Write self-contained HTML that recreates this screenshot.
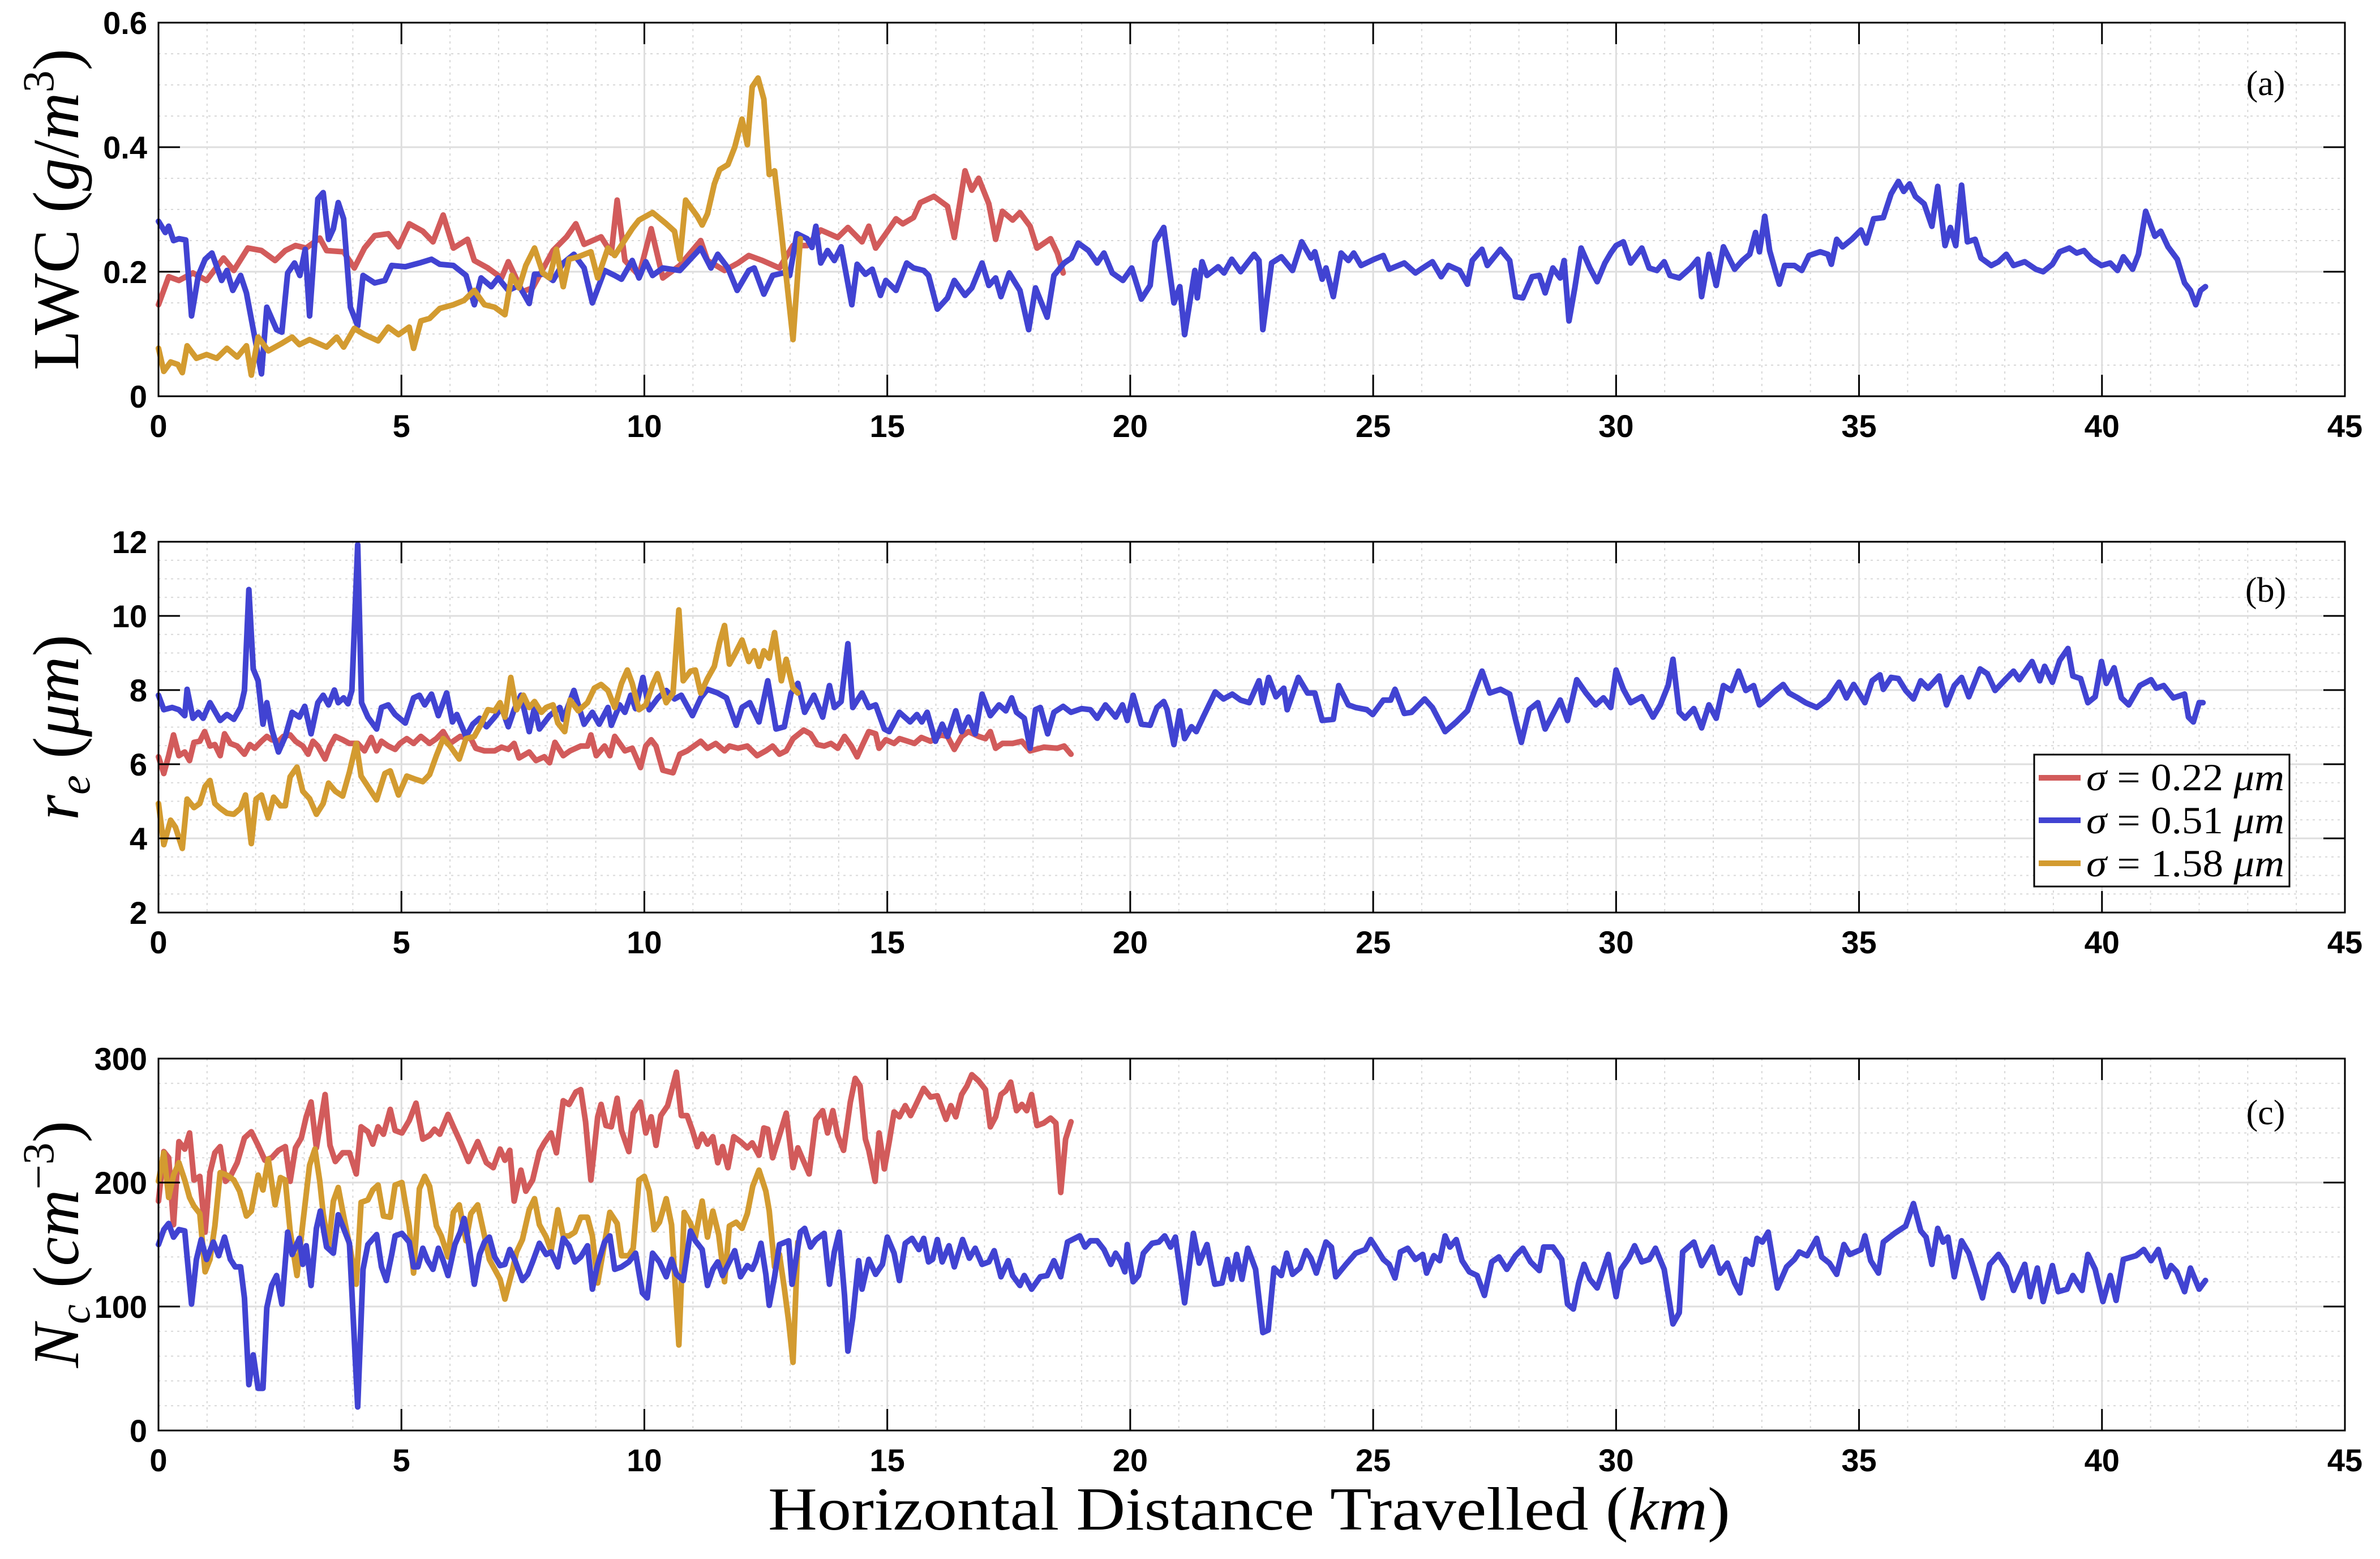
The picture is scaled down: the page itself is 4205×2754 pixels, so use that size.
<!DOCTYPE html>
<html><head><meta charset="utf-8"><style>
html,body{margin:0;padding:0;background:#fff}
svg{display:block}
.tick{font-family:"Liberation Sans",Arial,sans-serif;font-weight:bold;font-size:56px;fill:#000}
.ser{font-family:"Liberation Serif","DejaVu Serif",serif;fill:#000}
</style></head><body>
<svg id="chart" width="4205" height="2754" viewBox="0 0 4205 2754" xmlns="http://www.w3.org/2000/svg">
<rect x="0" y="0" width="4205" height="2754" fill="#fff"/>
<g id="layer"></g>
<text class="ser" transform="translate(138,370) rotate(-90)" text-anchor="middle" font-size="116">LWC (<tspan font-style="italic">g</tspan>/<tspan font-style="italic">m</tspan><tspan dy="-44" font-size="78">3</tspan><tspan dy="44">)</tspan></text>
<text class="ser" transform="translate(138,1285) rotate(-90)" text-anchor="middle" font-size="116"><tspan font-style="italic">r</tspan><tspan font-style="italic" font-size="78" dy="20">e</tspan><tspan dy="-20"> (</tspan><tspan font-style="italic">μm</tspan>)</text>
<text class="ser" transform="translate(138,2198) rotate(-90)" text-anchor="middle" font-size="116"><tspan font-style="italic">N</tspan><tspan font-style="italic" font-size="78" dy="20">c</tspan><tspan dy="-20"> (</tspan><tspan font-style="italic">cm</tspan><tspan dy="-44" font-size="78">−3</tspan><tspan dy="44">)</tspan></text>
<text class="ser" x="2207" y="2702" text-anchor="middle" font-size="108" textLength="1700" lengthAdjust="spacingAndGlyphs">Horizontal Distance Travelled (<tspan font-style="italic">km</tspan>)</text>
<text class="ser" x="4003" y="168" text-anchor="middle" font-size="62">(a)</text>
<text class="ser" x="4003" y="1063" text-anchor="middle" font-size="62">(b)</text>
<text class="ser" x="4003" y="1986" text-anchor="middle" font-size="62">(c)</text>
<g>
<rect x="3594" y="1333" width="451" height="233" fill="#fff" stroke="#000" stroke-width="3"/>
<line x1="3602" y1="1374" x2="3676" y2="1374" stroke="#d25b5b" stroke-width="10"/>
<text class="ser" x="3686" y="1396" font-size="68" textLength="350" lengthAdjust="spacingAndGlyphs"><tspan font-style="italic">σ</tspan> = 0.22 <tspan font-style="italic">μm</tspan></text>
<line x1="3602" y1="1449" x2="3676" y2="1449" stroke="#4143d2" stroke-width="10"/>
<text class="ser" x="3686" y="1472" font-size="68" textLength="350" lengthAdjust="spacingAndGlyphs"><tspan font-style="italic">σ</tspan> = 0.51 <tspan font-style="italic">μm</tspan></text>
<line x1="3602" y1="1525" x2="3676" y2="1525" stroke="#d39b30" stroke-width="10"/>
<text class="ser" x="3686" y="1548" font-size="68" textLength="350" lengthAdjust="spacingAndGlyphs"><tspan font-style="italic">σ</tspan> = 1.58 <tspan font-style="italic">μm</tspan></text>
</g>
</svg>
<script>
// ---- data: [distance km, value] ----
const xTicks = [0,5,10,15,20,25,30,35,40,45];
const lwcTicks = [0,0.2,0.4,0.6];
const lwcTickLabels = ["0","0.2","0.4","0.6"];
const reTicks = [2,4,6,8,10,12];
const ncTicks = [0,100,200,300];

const lwcRed = [[0,.147],[.21,.192],[.42,.186],[.71,.198],[.99,.186],[1.34,.222],[1.55,.202],[1.84,.238],[2.12,.234],[2.40,.218],[2.61,.234],[2.82,.242],[3.04,.238],[3.32,.254],[3.46,.234],[3.81,.232],[4.03,.206],[4.24,.238],[4.45,.258],[4.73,.261],[4.94,.240],[5.16,.277],[5.44,.265],[5.65,.248],[5.86,.291],[6.07,.238],[6.36,.252],[6.50,.218],[6.78,.206],[7.06,.190],[7.20,.216],[7.49,.168],[7.70,.174],[8.12,.234],[8.40,.256],[8.59,.277],[8.76,.244],[9.11,.256],[9.32,.230],[9.44,.315],[9.60,.218],[9.89,.194],[10.14,.269],[10.38,.190],[10.73,.210],[11.16,.250],[11.30,.218],[11.65,.202],[11.93,.214],[12.15,.226],[12.43,.218],[12.78,.206],[13.06,.242],[13.35,.242],[13.63,.267],[13.98,.255],[14.19,.271],[14.48,.248],[14.62,.273],[14.76,.238],[14.97,.261],[15.18,.285],[15.32,.277],[15.54,.287],[15.68,.311],[15.96,.321],[16.24,.305],[16.38,.255],[16.60,.362],[16.74,.331],[16.88,.350],[17.09,.309],[17.23,.252],[17.37,.297],[17.58,.283],[17.73,.295],[17.94,.273],[18.08,.238],[18.36,.253],[18.50,.230],[18.62,.198]];
const lwcGold = [[0,.077],[.11,.040],[.25,.055],[.40,.051],[.49,.038],[.59,.081],[.78,.061],[.99,.067],[1.20,.061],[1.41,.077],[1.62,.063],[1.81,.081],[1.91,.034],[2.05,.095],[2.26,.073],[2.54,.085],[2.75,.095],[2.90,.083],[3.11,.091],[3.46,.079],[3.67,.095],[3.81,.079],[4.03,.109],[4.24,.099],[4.52,.089],[4.73,.111],[4.94,.099],[5.16,.111],[5.25,.077],[5.40,.121],[5.58,.125],[5.79,.141],[6.07,.147],[6.29,.154],[6.50,.170],[6.71,.147],[6.92,.143],[7.13,.131],[7.27,.194],[7.42,.174],[7.56,.210],[7.74,.238],[7.91,.198],[8.05,.190],[8.19,.236],[8.33,.176],[8.45,.220],[8.64,.224],[8.90,.232],[9.04,.190],[9.25,.238],[9.39,.226],[9.75,.269],[9.89,.283],[10.17,.295],[10.45,.277],[10.62,.265],[10.73,.220],[10.85,.315],[11.09,.289],[11.19,.275],[11.30,.293],[11.44,.341],[11.55,.364],[11.72,.372],[11.86,.400],[12.01,.445],[12.12,.404],[12.22,.497],[12.34,.511],[12.46,.477],[12.57,.356],[12.68,.362],[12.82,.265],[13.06,.091],[13.21,.253]];
const lwcBlue = [[0,.281],[.14,.263],[.21,.273],[.31,.250],[.42,.253],[.56,.251],[.68,.129],[.82,.194],[.96,.220],[1.10,.230],[1.30,.186],[1.41,.202],[1.53,.170],[1.69,.194],[1.81,.166],[1.98,.095],[2.12,.036],[2.23,.143],[2.43,.107],[2.54,.103],[2.66,.198],[2.80,.214],[2.91,.194],[3.02,.236],[3.11,.129],[3.28,.317],[3.39,.327],[3.50,.252],[3.60,.269],[3.70,.311],[3.81,.285],[3.95,.143],[4.10,.113],[4.21,.194],[4.45,.182],[4.66,.186],[4.80,.210],[5.08,.208],[5.37,.214],[5.62,.220],[5.79,.212],[6.07,.210],[6.33,.194],[6.50,.147],[6.64,.190],[6.85,.176],[6.99,.190],[7.20,.170],[7.42,.178],[7.63,.149],[7.74,.196],[7.94,.196],[8.12,.186],[8.33,.214],[8.55,.228],[8.76,.206],[8.93,.150],[9.18,.202],[9.39,.194],[9.53,.188],[9.75,.218],[9.89,.190],[10.03,.216],[10.17,.194],[10.38,.206],[10.73,.202],[11.16,.238],[11.37,.206],[11.51,.228],[11.72,.206],[11.91,.170],[12.15,.202],[12.26,.206],[12.46,.164],[12.64,.194],[12.85,.198],[12.99,.194],[13.14,.261],[13.35,.253],[13.45,.239],[13.53,.273],[13.63,.214],[13.77,.234],[13.91,.218],[14.05,.240],[14.27,.147],[14.38,.212],[14.55,.196],[14.69,.204],[14.86,.162],[14.97,.186],[15.18,.170],[15.40,.214],[15.54,.206],[15.75,.202],[15.85,.194],[16.03,.140],[16.24,.158],[16.38,.186],[16.60,.162],[16.74,.174],[16.95,.214],[17.09,.178],[17.23,.190],[17.34,.160],[17.51,.198],[17.73,.170],[17.91,.107],[18.05,.174],[18.29,.127],[18.43,.194],[18.64,.214],[18.79,.222],[18.93,.246],[19.14,.234],[19.32,.214],[19.46,.230],[19.63,.198],[19.85,.186],[20.03,.206],[20.23,.156],[20.41,.178],[20.51,.248],[20.69,.271],[20.90,.150],[21.02,.176],[21.12,.099],[21.33,.202],[21.38,.158],[21.48,.216],[21.58,.194],[21.81,.208],[21.93,.198],[22.09,.220],[22.27,.200],[22.55,.228],[22.65,.218],[22.73,.107],[22.91,.214],[23.11,.224],[23.34,.202],[23.53,.248],[23.72,.222],[23.80,.232],[23.95,.188],[24.03,.206],[24.18,.160],[24.34,.230],[24.49,.218],[24.60,.230],[24.75,.210],[25.02,.220],[25.21,.226],[25.33,.204],[25.64,.214],[25.87,.198],[26.02,.206],[26.22,.216],[26.40,.192],[26.55,.210],[26.78,.202],[26.94,.180],[27.04,.218],[27.24,.236],[27.35,.210],[27.62,.236],[27.81,.218],[27.93,.160],[28.08,.158],[28.27,.192],[28.42,.194],[28.54,.166],[28.70,.206],[28.85,.190],[28.93,.218],[29.03,.121],[29.15,.174],[29.28,.238],[29.46,.206],[29.61,.184],[29.77,.214],[29.89,.230],[30.00,.242],[30.15,.248],[30.30,.214],[30.53,.238],[30.68,.206],[30.84,.202],[30.99,.216],[31.11,.194],[31.30,.190],[31.53,.206],[31.68,.220],[31.76,.160],[31.91,.228],[32.06,.178],[32.21,.240],[32.44,.204],[32.60,.218],[32.75,.228],[32.87,.263],[32.95,.232],[33.06,.289],[33.16,.234],[33.29,.198],[33.36,.180],[33.47,.210],[33.67,.210],[33.82,.202],[33.97,.226],[34.20,.232],[34.36,.228],[34.43,.212],[34.54,.252],[34.66,.240],[34.85,.252],[35.04,.267],[35.15,.246],[35.30,.285],[35.50,.287],[35.66,.325],[35.81,.345],[35.92,.329],[36.04,.341],[36.16,.321],[36.34,.309],[36.50,.273],[36.62,.337],[36.77,.242],[36.88,.271],[36.99,.242],[37.11,.339],[37.23,.248],[37.39,.252],[37.51,.222],[37.72,.210],[37.87,.216],[38.03,.228],[38.18,.210],[38.41,.216],[38.64,.204],[38.79,.200],[38.98,.212],[39.13,.232],[39.33,.238],[39.48,.230],[39.63,.234],[39.79,.220],[39.99,.210],[40.17,.214],[40.32,.202],[40.44,.224],[40.63,.204],[40.75,.228],[40.90,.297],[41.09,.257],[41.21,.265],[41.36,.240],[41.55,.220],[41.70,.182],[41.82,.170],[41.93,.147],[42.03,.170],[42.13,.176]];

const reRed = [[0,6.20],[.11,5.75],[.21,6.23],[.31,6.79],[.42,6.23],[.54,6.33],[.64,6.10],[.73,6.59],[.85,6.62],[.95,6.88],[1.06,6.49],[1.16,6.53],[1.27,6.23],[1.36,6.82],[1.48,6.56],[1.62,6.49],[1.77,6.27],[1.88,6.53],[1.98,6.43],[2.12,6.62],[2.23,6.75],[2.33,6.66],[2.47,6.62],[2.57,6.75],[2.71,6.79],[2.82,6.62],[2.97,6.49],[3.08,6.27],[3.18,6.62],[3.28,6.49],[3.43,6.14],[3.53,6.49],[3.64,6.75],[3.79,6.66],[3.93,6.56],[4.10,6.56],[4.24,6.36],[4.38,6.72],[4.49,6.36],[4.59,6.62],[4.73,6.49],[4.87,6.40],[4.97,6.56],[5.11,6.69],[5.25,6.56],[5.40,6.75],[5.58,6.56],[5.72,6.69],[5.86,6.88],[6.00,6.56],[6.21,6.75],[6.43,6.69],[6.53,6.43],[6.71,6.36],[6.92,6.36],[7.06,6.46],[7.20,6.40],[7.32,6.56],[7.42,6.17],[7.63,6.33],[7.77,6.10],[7.94,6.20],[8.05,6.04],[8.16,6.59],[8.33,6.23],[8.47,6.36],[8.69,6.49],[8.83,6.49],[8.90,6.79],[9.01,6.23],[9.18,6.49],[9.29,6.23],[9.39,6.75],[9.60,6.36],[9.75,6.43],[9.92,5.91],[10.03,6.49],[10.14,6.66],[10.24,6.49],[10.38,5.84],[10.59,5.77],[10.73,6.27],[10.88,6.36],[11.16,6.62],[11.30,6.43],[11.47,6.56],[11.65,6.36],[11.75,6.49],[11.93,6.43],[12.12,6.49],[12.32,6.23],[12.50,6.36],[12.64,6.49],[12.78,6.27],[12.92,6.36],[13.06,6.69],[13.28,6.92],[13.42,6.82],[13.56,6.53],[13.70,6.49],[13.84,6.56],[13.98,6.43],[14.12,6.75],[14.26,6.49],[14.38,6.20],[14.48,6.49],[14.62,6.88],[14.76,6.82],[14.83,6.43],[14.97,6.66],[15.14,6.56],[15.25,6.69],[15.42,6.62],[15.56,6.56],[15.70,6.72],[15.89,6.62],[16.10,6.79],[16.24,6.75],[16.38,6.40],[16.53,6.75],[16.67,6.88],[16.88,6.75],[17.02,6.69],[17.12,6.88],[17.23,6.43],[17.37,6.56],[17.58,6.56],[17.77,6.62],[17.94,6.36],[18.22,6.46],[18.50,6.43],[18.64,6.49],[18.78,6.27]];
const reGold = [[0,4.94],[.11,3.83],[.25,4.49],[.35,4.30],[.49,3.73],[.59,5.06],[.73,4.83],[.85,4.94],[.96,5.40],[1.06,5.56],[1.16,4.94],[1.27,4.81],[1.41,4.68],[1.55,4.65],[1.69,4.81],[1.79,5.17],[1.91,3.86],[2.01,5.06],[2.12,5.17],[2.26,4.55],[2.37,5.11],[2.51,4.88],[2.61,4.88],[2.71,5.66],[2.85,5.92],[2.97,5.27],[3.11,5.07],[3.25,4.65],[3.39,4.94],[3.50,5.49],[3.64,5.27],[3.79,5.14],[3.93,5.79],[4.07,6.56],[4.17,5.68],[4.31,5.40],[4.49,5.04],[4.66,5.75],[4.77,5.82],[4.94,5.17],[5.11,5.68],[5.30,5.59],[5.44,5.53],[5.58,5.72],[5.72,6.23],[5.86,6.69],[6.00,6.49],[6.19,6.14],[6.33,6.69],[6.50,6.75],[6.64,7.08],[6.78,7.47],[6.92,7.44],[7.03,7.66],[7.13,7.27],[7.25,8.34],[7.37,7.47],[7.51,7.86],[7.63,7.53],[7.74,7.69],[7.88,7.40],[7.98,7.53],[8.12,7.60],[8.22,7.11],[8.36,6.88],[8.47,7.73],[8.64,7.44],[8.83,7.66],[8.97,8.05],[9.11,8.15],[9.25,7.99],[9.39,7.53],[9.53,8.18],[9.65,8.54],[9.75,8.18],[9.89,7.47],[10.03,7.60],[10.17,8.15],[10.27,8.44],[10.45,7.66],[10.59,7.92],[10.71,10.16],[10.80,8.25],[10.95,8.51],[11.05,8.54],[11.16,7.92],[11.30,8.31],[11.44,8.64],[11.55,9.29],[11.65,9.74],[11.75,8.70],[11.86,8.96],[12.01,9.35],[12.15,8.77],[12.26,9.06],[12.36,8.64],[12.46,9.06],[12.57,8.86],[12.68,9.55],[12.82,8.25],[12.92,8.83],[13.06,8.05],[13.16,7.92]];
const reBlue = [[0,7.86],[.11,7.47],[.28,7.53],[.42,7.47],[.54,7.31],[.59,8.02],[.71,7.24],[.82,7.40],[.92,7.24],[1.06,7.66],[1.27,7.18],[1.41,7.34],[1.55,7.21],[1.69,7.53],[1.77,7.99],[1.86,10.71],[1.95,8.57],[2.05,8.25],[2.15,7.08],[2.23,7.66],[2.33,6.95],[2.47,6.33],[2.61,6.75],[2.75,7.40],[2.90,7.27],[3.01,7.56],[3.14,6.82],[3.28,7.66],[3.39,7.86],[3.50,7.60],[3.62,8.0],[3.70,7.66],[3.81,7.79],[3.90,7.63],[3.98,7.99],[4.10,11.92],[4.18,7.66],[4.31,7.27],[4.49,6.95],[4.59,7.53],[4.73,7.60],[4.87,7.34],[5.08,7.11],[5.25,7.79],[5.37,7.86],[5.48,7.60],[5.62,7.89],[5.76,7.31],[5.93,7.92],[6.05,7.14],[6.14,7.34],[6.33,6.75],[6.47,7.08],[6.61,7.24],[6.75,7.01],[6.92,7.27],[7.06,7.53],[7.20,7.01],[7.32,7.47],[7.46,7.86],[7.63,6.88],[7.74,7.53],[7.84,6.95],[8.05,7.31],[8.26,7.53],[8.33,7.21],[8.55,7.99],[8.76,7.08],[8.93,7.40],[9.07,7.08],[9.25,7.53],[9.32,7.05],[9.49,7.60],[9.60,7.40],[9.72,7.86],[9.82,7.50],[9.97,8.34],[10.10,7.47],[10.28,7.79],[10.45,7.99],[10.62,7.76],[10.76,7.86],[10.99,7.31],[11.16,7.79],[11.30,8.02],[11.51,7.92],[11.69,7.79],[11.89,7.05],[12.01,7.53],[12.17,7.66],[12.36,7.14],[12.54,8.25],[12.71,6.95],[12.88,7.01],[13.02,7.92],[13.16,8.18],[13.30,7.40],[13.49,7.86],[13.67,7.27],[13.81,8.12],[13.91,7.53],[14.05,7.69],[14.19,9.25],[14.29,7.53],[14.48,7.92],[14.62,7.53],[14.76,7.60],[14.94,6.95],[15.04,6.88],[15.25,7.40],[15.47,7.14],[15.61,7.34],[15.71,7.14],[15.82,7.40],[15.99,6.62],[16.13,7.08],[16.24,6.75],[16.41,7.44],[16.53,6.88],[16.67,7.27],[16.81,6.82],[16.95,7.89],[17.12,7.31],[17.30,7.60],[17.44,7.44],[17.56,7.79],[17.66,7.40],[17.82,7.24],[17.94,6.43],[18.05,7.47],[18.15,7.53],[18.30,6.82],[18.43,7.40],[18.62,7.56],[18.78,7.40],[19.00,7.50],[19.18,7.47],[19.32,7.24],[19.49,7.60],[19.70,7.27],[19.84,7.60],[19.94,7.18],[20.06,7.86],[20.23,7.08],[20.41,7.05],[20.55,7.53],[20.69,7.69],[20.76,7.47],[20.90,6.53],[21.02,7.44],[21.12,6.69],[21.26,7.01],[21.36,6.88],[21.50,7.27],[21.75,7.95],[21.92,7.76],[22.10,7.89],[22.27,7.73],[22.45,7.66],[22.65,8.25],[22.73,7.66],[22.85,8.34],[23.00,7.82],[23.16,8.05],[23.23,7.47],[23.46,8.34],[23.65,7.92],[23.80,7.92],[23.95,7.18],[24.18,7.21],[24.29,8.12],[24.49,7.60],[24.64,7.53],[24.87,7.47],[24.99,7.34],[25.21,7.73],[25.36,7.73],[25.45,8.02],[25.64,7.37],[25.79,7.40],[26.06,7.76],[26.22,7.53],[26.48,6.88],[26.71,7.14],[26.94,7.44],[27.09,7.99],[27.24,8.51],[27.40,7.92],[27.62,8.02],[27.81,7.89],[27.93,7.21],[28.05,6.59],[28.21,7.47],[28.39,7.66],[28.54,6.95],[28.85,7.73],[29.00,7.18],[29.19,8.28],[29.38,7.92],[29.58,7.60],[29.74,7.79],[29.89,7.53],[30.00,8.54],[30.15,8.02],[30.30,7.66],[30.53,7.82],[30.76,7.27],[30.91,7.60],[31.07,8.12],[31.17,8.83],[31.30,7.40],[31.42,7.24],[31.60,7.50],[31.76,6.98],[31.91,7.60],[32.06,7.24],[32.21,8.12],[32.37,7.99],[32.52,8.51],[32.67,7.99],[32.83,8.12],[32.95,7.60],[33.10,7.76],[33.25,7.95],[33.44,8.15],[33.56,7.92],[33.74,7.79],[33.90,7.66],[34.13,7.53],[34.36,7.76],[34.59,8.21],[34.74,7.79],[34.89,8.15],[35.12,7.66],[35.27,8.25],[35.43,8.41],[35.50,8.02],[35.66,8.34],[35.81,8.31],[35.96,7.99],[36.12,7.76],[36.27,8.25],[36.42,8.05],[36.65,8.38],[36.80,7.60],[36.96,8.12],[37.11,8.34],[37.26,7.82],[37.49,8.57],[37.64,8.44],[37.80,7.99],[38.03,8.31],[38.18,8.51],[38.30,8.28],[38.56,8.77],[38.72,8.25],[38.82,8.64],[38.98,8.21],[39.13,8.80],[39.30,9.12],[39.40,8.38],[39.56,8.31],[39.71,7.66],[39.86,7.82],[39.99,8.77],[40.09,8.18],[40.25,8.60],[40.40,7.79],[40.55,7.60],[40.78,8.12],[41.01,8.28],[41.12,8.05],[41.27,8.12],[41.47,7.79],[41.70,7.89],[41.78,7.27],[41.88,7.14],[42.00,7.66],[42.08,7.66]];

const ncRed = [[0,185],[.11,225],[.21,220],[.31,166],[.42,233],[.54,227],[.64,240],[.73,202],[.85,205],[.96,160],[1.06,208],[1.16,224],[1.27,229],[1.38,201],[1.48,205],[1.62,216],[1.77,236],[1.91,241],[2.05,230],[2.19,218],[2.33,220],[2.47,226],[2.61,229],[2.71,201],[2.82,228],[2.94,236],[3.04,253],[3.14,265],[3.25,228],[3.43,271],[3.53,230],[3.64,217],[3.79,224],[3.93,224],[4.07,207],[4.17,245],[4.31,241],[4.41,231],[4.52,245],[4.63,239],[4.77,259],[4.87,242],[5.01,240],[5.16,250],[5.30,264],[5.44,235],[5.58,238],[5.68,243],[5.79,239],[5.96,255],[6.07,245],[6.21,233],[6.38,217],[6.57,233],[6.75,216],[6.89,212],[7.03,227],[7.13,218],[7.23,226],[7.32,185],[7.46,210],[7.56,193],[7.70,202],[7.84,225],[7.94,232],[8.08,240],[8.19,224],[8.33,266],[8.45,263],[8.59,273],[8.69,275],[8.79,249],[8.90,202],[9.04,253],[9.11,263],[9.21,246],[9.32,245],[9.44,268],[9.53,242],[9.68,225],[9.77,256],[9.92,265],[10.03,240],[10.14,253],[10.24,230],[10.34,254],[10.48,262],[10.66,289],[10.76,254],[10.88,254],[10.99,242],[11.09,229],[11.19,239],[11.30,231],[11.41,237],[11.51,216],[11.61,229],[11.72,212],[11.84,237],[11.98,233],[12.12,228],[12.22,232],[12.36,222],[12.46,244],[12.54,243],[12.64,220],[12.78,238],[12.92,256],[13.06,212],[13.16,228],[13.28,217],[13.39,207],[13.53,251],[13.67,258],[13.77,240],[13.88,258],[13.98,238],[14.10,226],[14.24,265],[14.34,284],[14.44,278],[14.55,235],[14.62,226],[14.75,201],[14.83,240],[14.94,211],[15.04,233],[15.14,257],[15.25,253],[15.37,262],[15.48,254],[15.58,262],[15.75,276],[15.89,269],[16.03,270],[16.21,251],[16.31,262],[16.41,253],[16.53,271],[16.64,278],[16.74,287],[16.88,282],[17.02,275],[17.12,245],[17.23,253],[17.34,271],[17.44,274],[17.54,281],[17.66,258],[17.77,263],[17.87,258],[17.97,271],[18.08,246],[18.22,248],[18.36,252],[18.47,248],[18.57,192],[18.67,235],[18.78,249]];
const ncGold = [[0,201],[.11,224],[.21,188],[.31,206],[.42,216],[.54,202],[.64,188],[.73,181],[.85,175],[.96,128],[1.06,138],[1.16,165],[1.27,208],[1.41,206],[1.55,202],[1.67,193],[1.81,173],[1.91,177],[2.05,206],[2.15,194],[2.26,219],[2.40,182],[2.51,204],[2.61,202],[2.71,161],[2.85,125],[2.97,167],[3.11,214],[3.22,227],[3.32,201],[3.39,175],[3.50,149],[3.60,185],[3.70,196],[3.81,173],[3.95,146],[4.07,118],[4.17,184],[4.31,186],[4.41,194],[4.52,198],[4.63,173],[4.77,172],[4.87,198],[5.01,200],[5.16,165],[5.25,127],[5.37,195],[5.48,205],[5.58,197],[5.72,165],[5.82,157],[5.96,140],[6.07,176],[6.19,182],[6.33,153],[6.43,175],[6.57,182],[6.71,157],[6.81,138],[6.92,130],[7.03,122],[7.13,106],[7.27,127],[7.37,144],[7.49,154],[7.63,178],[7.74,187],[7.84,166],[7.98,156],[8.08,145],[8.22,178],[8.33,157],[8.45,157],[8.57,160],[8.69,172],[8.83,172],[8.93,157],[9.04,119],[9.18,151],[9.29,176],[9.44,167],[9.53,141],[9.68,141],[9.77,147],[9.89,202],[10.00,205],[10.10,193],[10.20,162],[10.31,168],[10.45,187],[10.56,166],[10.71,69],[10.82,176],[10.95,167],[11.05,156],[11.19,185],[11.30,156],[11.41,177],[11.53,158],[11.65,120],[11.75,165],[11.89,168],[12.01,163],[12.12,175],[12.23,197],[12.36,210],[12.50,193],[12.57,177],[12.68,132],[12.78,142],[12.88,115],[12.97,88],[13.06,55],[13.16,152]];
const ncBlue = [[0,150],[.11,162],[.21,167],[.31,156],[.42,162],[.54,161],[.59,140],[.68,102],[.78,138],[.88,154],[.99,138],[1.13,152],[1.24,141],[1.36,156],[1.48,138],[1.58,132],[1.69,132],[1.77,107],[1.86,37],[1.95,61],[2.05,34],[2.15,34],[2.23,99],[2.33,117],[2.43,125],[2.54,102],[2.66,160],[2.75,142],[2.90,155],[2.97,134],[3.04,149],[3.14,117],[3.25,163],[3.33,177],[3.46,148],[3.60,143],[3.70,174],[3.81,163],[3.93,151],[4.10,19],[4.21,130],[4.31,150],[4.49,158],[4.59,132],[4.69,121],[4.80,142],[4.87,157],[5.01,159],[5.16,152],[5.25,132],[5.34,132],[5.44,147],[5.54,137],[5.65,130],[5.76,147],[5.86,137],[5.96,125],[6.10,150],[6.21,160],[6.29,171],[6.38,152],[6.50,118],[6.61,142],[6.71,152],[6.81,156],[6.92,140],[7.03,133],[7.13,134],[7.23,146],[7.34,137],[7.49,121],[7.60,126],[7.70,136],[7.84,151],[7.98,142],[8.08,144],[8.22,132],[8.33,155],[8.45,149],[8.57,136],[8.69,140],[8.83,149],[8.93,114],[9.04,134],[9.18,152],[9.29,157],[9.39,130],[9.53,132],[9.68,136],[9.82,143],[9.96,111],[10.06,107],[10.17,143],[10.31,136],[10.45,124],[10.56,138],[10.66,126],[10.80,121],[10.95,161],[11.05,153],[11.19,146],[11.30,117],[11.41,130],[11.51,136],[11.61,125],[11.75,136],[11.86,145],[11.98,124],[12.12,133],[12.22,130],[12.29,136],[12.40,151],[12.50,126],[12.57,101],[12.68,124],[12.78,150],[12.97,153],[13.04,118],[13.21,160],[13.30,163],[13.42,148],[13.53,154],[13.70,159],[13.81,118],[13.91,144],[14.01,160],[14.12,109],[14.19,64],[14.29,91],[14.41,137],[14.48,114],[14.62,138],[14.76,126],[14.90,134],[15.00,156],[15.14,143],[15.25,121],[15.37,151],[15.51,155],[15.65,146],[15.75,155],[15.85,136],[15.93,138],[16.03,154],[16.13,136],[16.27,149],[16.38,132],[16.55,154],[16.69,139],[16.81,147],[16.95,134],[17.09,136],[17.20,145],[17.34,124],[17.49,137],[17.58,125],[17.73,117],[17.82,125],[17.97,114],[18.15,124],[18.29,125],[18.43,137],[18.57,124],[18.71,152],[18.86,155],[18.96,157],[19.07,148],[19.18,153],[19.32,153],[19.46,146],[19.60,134],[19.70,143],[19.80,137],[19.89,128],[19.94,150],[20.06,120],[20.17,125],[20.27,143],[20.45,151],[20.59,152],[20.71,157],[20.83,148],[20.93,156],[21.04,126],[21.12,103],[21.30,159],[21.42,135],[21.58,150],[21.74,118],[21.89,119],[22.00,138],[22.09,122],[22.19,142],[22.30,122],[22.42,147],[22.58,130],[22.73,79],[22.84,81],[22.96,131],[23.11,125],[23.22,143],[23.34,126],[23.49,131],[23.62,145],[23.72,139],[23.83,127],[24.03,152],[24.14,148],[24.23,124],[24.44,134],[24.64,143],[24.84,146],[24.95,154],[25.05,148],[25.21,138],[25.33,134],[25.45,123],[25.56,144],[25.71,147],[25.87,138],[26.02,142],[26.10,127],[26.25,141],[26.37,137],[26.48,157],[26.58,148],[26.71,154],[26.83,137],[26.98,128],[27.14,125],[27.29,109],[27.44,136],[27.59,140],[27.75,130],[27.93,141],[28.08,147],[28.24,136],[28.42,129],[28.51,148],[28.70,148],[28.88,138],[29.00,102],[29.12,98],[29.23,119],[29.34,134],[29.46,122],[29.61,115],[29.84,142],[30.00,108],[30.10,130],[30.26,139],[30.38,149],[30.53,136],[30.68,138],[30.81,147],[30.99,130],[31.17,86],[31.30,95],[31.37,144],[31.60,152],[31.76,133],[31.98,148],[32.14,127],[32.29,135],[32.44,119],[32.55,111],[32.67,138],[32.80,134],[32.90,155],[33.01,152],[33.13,160],[33.32,115],[33.51,132],[33.67,138],[33.77,144],[33.93,141],[34.13,155],[34.23,140],[34.39,135],[34.54,126],[34.69,150],[34.81,142],[35.04,146],[35.12,157],[35.24,137],[35.40,127],[35.50,152],[35.73,159],[35.96,165],[36.12,183],[36.27,161],[36.38,156],[36.50,134],[36.62,163],[36.73,152],[36.83,156],[36.96,124],[37.11,153],[37.26,143],[37.42,123],[37.54,107],[37.69,134],[37.87,142],[38.03,132],[38.18,113],[38.41,134],[38.52,108],[38.67,131],[38.79,104],[38.98,133],[39.10,112],[39.28,114],[39.40,125],[39.59,113],[39.71,142],[39.86,130],[40.02,104],[40.17,125],[40.29,105],[40.44,138],[40.70,141],[40.86,146],[41.01,137],[41.16,146],[41.32,124],[41.42,133],[41.54,128],[41.70,112],[41.82,131],[42.00,114],[42.13,121]];

// ---- layout ----
const X0 = 280, X1 = 4143, XMAX = 45;
const panels = [
  {id:'lwc', top:40, bot:700, ymin:0, ymax:0.6, major:lwcTicks, labels:lwcTickLabels, minorStep:0.05,
   series:[['red',lwcRed],['blue',lwcBlue],['gold',lwcGold]]},
  {id:'re', top:957, bot:1612, ymin:2, ymax:12, major:reTicks, labels:reTicks.map(String), minorStep:0.5,
   series:[['red',reRed],['blue',reBlue],['gold',reGold]]},
  {id:'nc', top:1870, bot:2527, ymin:0, ymax:300, major:ncTicks, labels:ncTicks.map(String), minorStep:20,
   series:[['red',ncRed],['gold',ncGold],['blue',ncBlue]]}
];
const colors = {red:'#d25b5b', blue:'#4143d2', gold:'#d39b30'};
const NS = 'http://www.w3.org/2000/svg';
const layer = document.getElementById('layer');
function xs(v){return X0 + (v/XMAX)*(X1-X0);}
function mk(tag, attrs, parent){
  const e = document.createElementNS(NS, tag);
  for (const k in attrs) e.setAttribute(k, attrs[k]);
  (parent||layer).appendChild(e);
  return e;
}
panels.forEach(p => {
  const ys = v => p.bot - (v-p.ymin)/(p.ymax-p.ymin)*(p.bot-p.top);
  const g = mk('g', {});
  
  
  mk('rect', {x:X0, y:p.top, width:X1-X0, height:p.bot-p.top, fill:'#fff'}, g);
  for (let k=1; k<XMAX; k++) {
    if (k%5===0) continue;
    const l = mk('line', {x1:xs(k), x2:xs(k), y1:p.top, y2:p.bot, stroke:'#d8d8d8', 'stroke-width':2, 'stroke-dasharray':'4,7'}, g);
    
    
  }
  for (let v=p.ymin+p.minorStep; v<p.ymax-1e-9; v+=p.minorStep) {
    const l = mk('line', {x1:X0, x2:X1, y1:ys(v), y2:ys(v), stroke:'#d8d8d8', 'stroke-width':2, 'stroke-dasharray':'4,7'}, g);
    
    
  }
  xTicks.forEach(t => {
    const l = mk('line', {x1:xs(t), x2:xs(t), y1:p.top, y2:p.bot, stroke:'#dedede', 'stroke-width':3}, g);
    
    
  });
  p.major.forEach(t => {
    const l = mk('line', {x1:X0, x2:X1, y1:ys(t), y2:ys(t), stroke:'#dedede', 'stroke-width':3}, g);
    
    
  });
  p.series.forEach(([name, data]) => {
    const d = data.map((pt,i) => (i?'L':'M') + xs(pt[0]).toFixed(1) + ',' + ys(pt[1]).toFixed(1)).join(' ');
    const path = mk('path', {d:d, fill:'none', stroke:colors[name], 'stroke-width':10, 'stroke-linejoin':'round', 'stroke-linecap':'round'}, g);
    
    
  });
  xTicks.forEach(t => {
    mk('line', {x1:xs(t), x2:xs(t), y1:p.bot, y2:p.bot-38, stroke:'#000', 'stroke-width':3}, g);
    mk('line', {x1:xs(t), x2:xs(t), y1:p.top, y2:p.top+38, stroke:'#000', 'stroke-width':3}, g);
    const tl = mk('text', {x:xs(t), y:p.bot+72, 'text-anchor':'middle', class:'tick'}, g);
    tl.textContent = String(t);
    
    
  });
  p.major.forEach((t,i) => {
    mk('line', {x1:X0, x2:X0+38, y1:ys(t), y2:ys(t), stroke:'#000', 'stroke-width':3}, g);
    mk('line', {x1:X1, x2:X1-38, y1:ys(t), y2:ys(t), stroke:'#000', 'stroke-width':3}, g);
    const tl = mk('text', {x:X0-20, y:ys(t)+20, 'text-anchor':'end', class:'tick'}, g);
    tl.textContent = p.labels[i];
    
    
  });
  const box = mk('rect', {x:X0, y:p.top, width:X1-X0, height:p.bot-p.top, fill:'none', stroke:'#000', 'stroke-width':3}, g);
  
  
});
</script>
</body></html>
